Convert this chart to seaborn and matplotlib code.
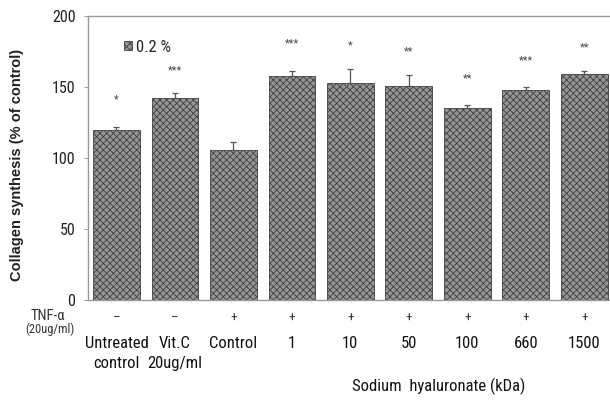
import matplotlib
matplotlib.use("Agg")
import matplotlib.pyplot as plt
import matplotlib.transforms as mtransforms
from matplotlib.patches import Patch
import seaborn as sns
import pandas as pd

categories = ["Untreated\ncontrol", "Vit.C\n20ug/ml", "Control", "1", "10", "50", "100", "660", "1500"]
values = [120, 142, 105.5, 158, 152.5, 150.5, 135.5, 148, 159]
errors = [2, 4, 5.5, 3, 10, 8, 2, 2, 2.5]
stars = ["*", "***", "", "***", "*", "**", "**", "***", "**"]
star_y = [141, 162, None, 181, 179, 175, 156, 169, 178]
tnf = ["\u2013", "\u2013", "+", "+", "+", "+", "+", "+", "+"]
yticks = [0, 50, 100, 150, 200]

sns.set_theme(style="white")
plt.rcParams["font.family"] = ["Roboto Condensed", "DejaVu Sans"]
plt.rcParams["hatch.linewidth"] = 0.6

df = pd.DataFrame({"cat": categories, "val": values})
fig = plt.figure(figsize=(6.1, 4.0), dpi=100)
ax = fig.add_axes([88 / 610, 100 / 400, 522 / 610, 284 / 400])

bar_face = "#959595"
bar_edge = "#404040"
sns.barplot(data=df, x="cat", y="val", ax=ax, color=bar_face, width=0.8,
            saturation=1, errorbar=None)
for p in ax.patches:
    p.set_hatch("xxxxx")
    p.set_edgecolor(bar_edge)
    p.set_linewidth(0.6)

xs = list(range(len(categories)))
ax.errorbar(xs, values, yerr=[[0] * len(errors), errors], fmt="none",
            ecolor="#555555", elinewidth=0.9, capsize=2.5, capthick=0.9)

for x, s, y in zip(xs, stars, star_y):
    if s:
        ax.text(x, y, s, ha="center", va="center", fontsize=8, color="#444444")

ax.set_ylim(0, 200)
ax.set_xlim(-0.487, 8.44)
ax.set_yticks(yticks)
ax.set_yticklabels([str(t) for t in yticks], fontsize=11.5, color="#222222")
ax.tick_params(axis="y", length=3, width=0.6, color="#888888", direction="out", left=True, pad=6)
ax.set_xticks([])
ax.set_xlabel("")
ax.set_ylabel("Collagen synthesis (% of control)", fontsize=10.5, fontweight="bold",
              color="#222222", family="Liberation Sans")
ax.yaxis.set_label_coords(-0.122, 0.475)
for side in ["left", "top", "bottom"]:
    ax.spines[side].set_color("#999999")
    ax.spines[side].set_linewidth(1.0)
ax.spines["right"].set_visible(False)

trans = mtransforms.blended_transform_factory(ax.transData, fig.transFigure)
for x, t in zip(xs, tnf):
    ax.text(x, 1 - 318 / 400, t, transform=trans, ha="center", va="center",
            fontsize=9.5, color="#333333")
for x, c in zip(xs, categories):
    ax.text(x, 1 - 336 / 400, c, transform=trans, ha="center", va="top",
            fontsize=12, color="#111111", linespacing=1.4)
fig.text(48 / 610, 1 - 316 / 400, "TNF-\u03b1", ha="center", va="center", fontsize=10.5, color="#333333")
fig.text(50 / 610, 1 - 329 / 400, "(20ug/ml)", ha="center", va="center", fontsize=9, color="#333333")
fig.text(439 / 610, 1 - 386 / 400, "Sodium  hyaluronate (kDa)", ha="center", va="center",
         fontsize=12, color="#111111")

handle = Patch(facecolor=bar_face, edgecolor=bar_edge, hatch="xxxxx", linewidth=0.6)
ax.legend([handle], ["0.2 %"], loc="upper left", bbox_to_anchor=(0.04, 0.97),
          frameon=False, handlelength=0.5, handleheight=0.5, handletextpad=0.2,
          fontsize=12)

fig.savefig("out.png", dpi=100)
